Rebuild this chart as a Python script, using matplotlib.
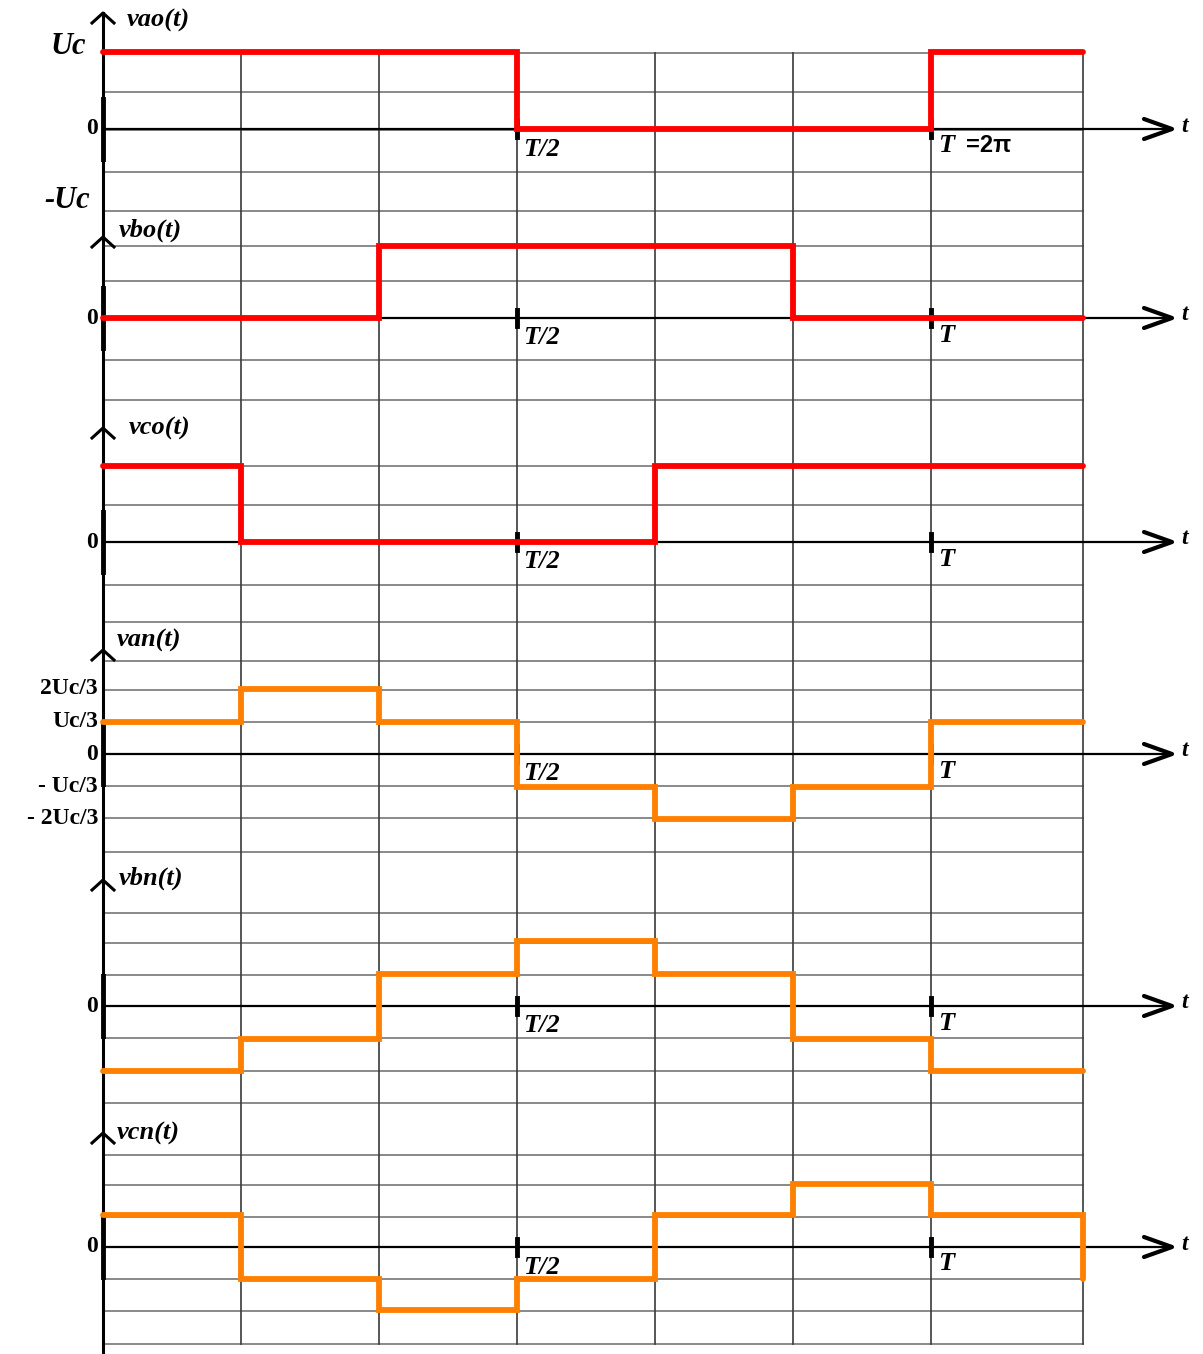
import matplotlib.pyplot as plt

# Six-step inverter waveforms, one sector = T/6
edges = [0, 1, 2, 3, 4, 5, 6, 7.1]

# pole voltages (in Uc), one value per sector
vao = [1, 1, 1, 0, 0, 0, 1]
vbo = [0, 0, 1, 1, 1, 0, 0]
vco = [1, 0, 0, 0, 1, 1, 1]

# phase-to-neutral voltages (in Uc), one value per sector
van = [1/3, 2/3, 1/3, -1/3, -2/3, -1/3, 1/3]
vbn = [-2/3, -1/3, 1/3, 2/3, 1/3, -1/3, -2/3]
vcn = [1/3, -1/3, -2/3, -1/3, 1/3, 2/3, 1/3]
vcn_end = -1/3   # the curve drops at the right edge

names = ['vao(t)', 'vbo(t)', 'vco(t)', 'van(t)', 'vbn(t)', 'vcn(t)']
series = [vao, vbo, vco, van, vbn, vcn]
van_ticks = [2/3, 1/3, 0, -1/3, -2/3]
van_ticklabels = ['2Uc/3', 'Uc/3', '0', '- Uc/3', '- 2Uc/3']

# ---- layout (pixel rows, since the drawing is a hand made grid) ----
W, H = 1203, 1354
X0, SX = 103, 138           # pixel of t=0 and pixels per sector
zero_row = [129, 318, 542, 754, 1006, 1247]
uc_px = [77, 72, 76, 97.5, 97.5, 95]
arrow_row = [13, 237, 428, 650, 880, 1133]
name_px = [127, 119, 129, 117, 119, 117]
name_row = [20, 230, 428, 640, 878, 1133]
colors = ['#ff0000'] * 3 + ['#ff8000'] * 3
hgrid = [53, 92, 130, 172, 211, 246, 281, 318, 360, 400, 466, 505, 542,
         585, 622, 661, 690, 722, 754, 786, 818, 852, 913, 943, 975, 1006,
         1038, 1071, 1103, 1155, 1185, 1217, 1247, 1279, 1311, 1344]


def sx(px):
    return (px - X0) / SX


fig = plt.figure(figsize=(W / 100, H / 100), dpi=100)
ax = fig.add_axes([0, 0, 1, 1])
ax.set_xlim(sx(0), sx(W))
ax.set_ylim(H, 0)
ax.axis('off')

serif = 'Liberation Serif'

# grid
for r in hgrid:
    ax.plot([0, edges[-1]], [r, r], color='#6a6a6a', lw=1.1, zorder=1)
for e in edges[1:]:
    ax.plot([e, e], [hgrid[0], hgrid[-1]], color='#3a3a3a', lw=1.2,
            zorder=1)

# left vertical axis
ax.plot([0, 0], [arrow_row[0], H], color='black', lw=2.2, zorder=3)

for i in range(6):
    z = zero_row[i]
    # time axis with arrow head
    ax.plot([0, sx(1170)], [z, z], color='black', lw=1.6, zorder=2)
    ax.plot([sx(1144), sx(1172), sx(1144)], [z - 10, z, z + 10],
            color='black', lw=3, solid_capstyle='round', zorder=2)
    ax.text(sx(1181), z - 3, 't', fontsize=17, family=serif,
            weight='bold', style='italic', ha='left', va='center')
    # up arrow on the vertical axis
    a = arrow_row[i]
    ax.plot([sx(92), 0, sx(114)], [a + 10, a, a + 10], color='black',
            lw=2.2, zorder=3)
    ax.text(sx(name_px[i]), name_row[i], names[i], fontsize=19,
            family=serif, weight='bold', style='italic', ha='left',
            va='center')
    # thicker part of the axis around zero
    ax.plot([0, 0], [z - 30, z + 30], color='black', lw=3.5, zorder=3)
    # T/2 and T marks
    for e in (3, 6):
        ax.plot([e, e], [z - 8, z + 8], color='black', lw=3.5, zorder=3)
    ax.text(sx(523), z + 20, 'T/2', fontsize=19, family=serif,
            weight='bold', style='italic', ha='left', va='center')
    ax.text(sx(938), z + 17, 'T', fontsize=19, family=serif,
            weight='bold', style='italic', ha='left', va='center')
    if i != 3:
        ax.text(sx(98), z, '0', fontsize=17, family=serif, weight='bold',
                ha='right', va='center')

    # waveform
    vals = series[i]
    xs, ys = [], []
    for k, v in enumerate(vals):
        xs += [edges[k], edges[k + 1]]
        ys += [z - v * uc_px[i]] * 2
    if i == 5:
        xs.append(edges[-1])
        ys.append(z - vcn_end * uc_px[i])
    ax.plot(xs, ys, color=colors[i], lw=4.2, solid_joinstyle='miter',
            solid_capstyle='round', zorder=4)

ax.text(sx(966), zero_row[0] + 17, '=2π', fontsize=17,
        family='Liberation Sans', weight='bold', ha='left', va='center')

# level labels of the first and fourth panels
ax.text(sx(86), zero_row[0] - uc_px[0] - 6, 'Uc', fontsize=22,
        family=serif, weight='bold', style='italic', ha='right',
        va='center')
ax.text(sx(90), zero_row[0] + uc_px[0] - 6, '-Uc', fontsize=22,
        family=serif, weight='bold', style='italic', ha='right',
        va='center')
for v, lab in zip(van_ticks, van_ticklabels):
    ax.text(sx(98), zero_row[3] - v * uc_px[3], lab, fontsize=17,
            family=serif, weight='bold', ha='right', va='center')

fig.savefig('out.png', dpi=100, facecolor='white')
